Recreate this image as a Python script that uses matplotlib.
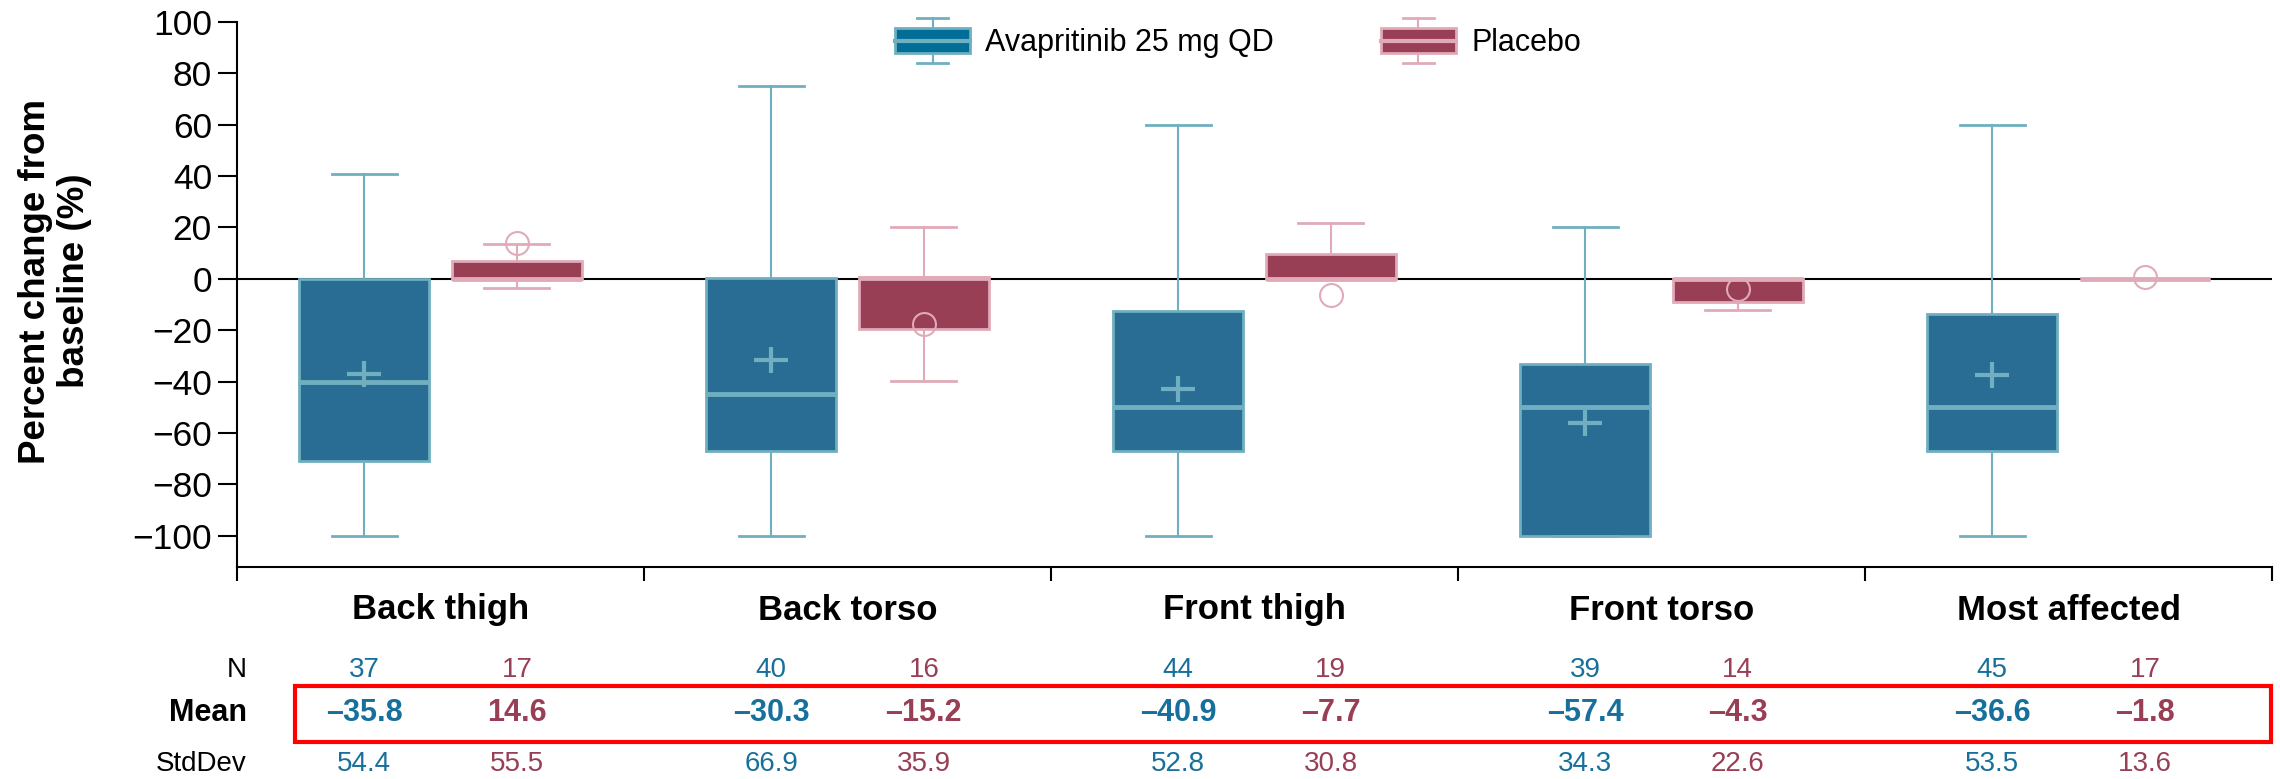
import numpy as np
import matplotlib.pyplot as plt
from matplotlib.patches import Rectangle, Patch
from matplotlib.lines import Line2D
from matplotlib.legend_handler import HandlerBase
from matplotlib.path import Path
from matplotlib import transforms

plt.rcParams['font.family'] = ['Liberation Sans', 'DejaVu Sans']

regions = ['Back thigh', 'Back torso', 'Front thigh', 'Front torso', 'Most affected']
groups = ['Avapritinib 25 mg QD', 'Placebo']

# box statistics (percent change from baseline)
ava_whislo = [-100, -100, -100, -100, -100]
ava_q1 = [-71, -67, -67, -100, -67]
ava_med = [-40, -45, -50, -50, -50]
ava_q3 = [0, 0.5, -12.7, -33.3, -13.5]
ava_whishi = [41, 75, 60, 20, 60]
ava_mean = [-37, -31.7, -42.9, -56, -37.4]

pbo_whislo = [-3.6, -39.7, 0, -12.2, 0]
pbo_q1 = [0, -19.5, 0, -9.1, 0]
pbo_med = [0, 0.5, 0, 0, 0]
pbo_q3 = [6.8, 0.8, 9.6, 0, 0]
pbo_whishi = [13.5, 20.2, 21.9, 0, 0]
pbo_mean = [14, -17.4, -6.2, -4, 0.7]

# summary rows under the chart
ava_n = [37, 40, 44, 39, 45]
pbo_n = [17, 16, 19, 14, 17]
ava_tab_mean = [-35.8, -30.3, -40.9, -57.4, -36.6]
pbo_tab_mean = [14.6, -15.2, -7.7, -4.3, -1.8]
ava_sd = [54.4, 66.9, 52.8, 34.3, 53.5]
pbo_sd = [55.5, 35.9, 30.8, 22.6, 13.6]

AVA_FILL = '#2A6D94'
AVA_LINE = '#6FAFBF'
AVA_TXT = '#17709B'
PBO_FILL = '#983E55'
PBO_LINE = '#E0AAB9'
PBO_TXT = '#983E55'

# a plus sign a little wider than tall, like the original
wide_plus = Path([(-1, 0), (1, 0), (0, -0.77), (0, 0.77)],
                 [Path.MOVETO, Path.LINETO, Path.MOVETO, Path.LINETO])


def make_stats(lo, q1, med, q3, hi, mean):
    return [dict(whislo=a, q1=b, med=c, q3=d, whishi=e, mean=f, fliers=[])
            for a, b, c, d, e, f in zip(lo, q1, med, q3, hi, mean)]


def fmt(v):
    return f'{v:.1f}'.replace('-', '\u2013')


class BoxHandler(HandlerBase):
    def create_artists(self, legend, orig_handle, xdescent, ydescent,
                       width, height, fontsize, trans):
        fc = orig_handle.get_facecolor()
        ec = orig_handle.get_edgecolor()
        x0, y0 = -xdescent, -ydescent
        xm = x0 + width / 2
        cw = width * 0.21
        arts = [
            Line2D([xm, xm], [y0 + height, y0 + height * 1.39], color=ec, lw=1.5),
            Line2D([xm, xm], [y0, y0 - height * 0.39], color=ec, lw=1.5),
            Line2D([xm - cw, xm + cw], [y0 + height * 1.39] * 2, color=ec, lw=2),
            Line2D([xm - cw, xm + cw], [y0 - height * 0.39] * 2, color=ec, lw=2),
            Rectangle((x0, y0), width, height, facecolor=fc, edgecolor=ec, lw=2),
            Line2D([x0, x0 + width], [y0 + height / 2] * 2, color=ec, lw=3),
        ]
        for a in arts:
            a.set_transform(trans)
        return arts


fig = plt.figure(figsize=(22.8, 7.79), dpi=100)
ax = fig.add_axes([237 / 2280, 1 - 566.5 / 779, 2035 / 2280, 544.5 / 779])

centers = np.arange(len(regions)) + 0.5
off = 0.1875
ava_pos = centers - off
pbo_pos = centers + off

ax.axhline(0, color='black', lw=1.5, zorder=0.5)

ax.bxp(make_stats(ava_whislo, ava_q1, ava_med, ava_q3, ava_whishi, ava_mean),
       positions=ava_pos, widths=0.32, patch_artist=True, showmeans=True,
       manage_ticks=False,
       boxprops=dict(facecolor=AVA_FILL, edgecolor=AVA_LINE, linewidth=2),
       medianprops=dict(color=AVA_LINE, linewidth=3.5, solid_capstyle='butt'),
       whiskerprops=dict(color=AVA_LINE, linewidth=1.5),
       capprops=dict(color=AVA_LINE, linewidth=2),
       meanprops=dict(marker=wide_plus, markeredgecolor=AVA_LINE,
                      markerfacecolor='none', markersize=25, markeredgewidth=3))

ax.bxp(make_stats(pbo_whislo, pbo_q1, pbo_med, pbo_q3, pbo_whishi, pbo_mean),
       positions=pbo_pos, widths=0.32, patch_artist=True, showmeans=True,
       manage_ticks=False,
       boxprops=dict(facecolor=PBO_FILL, edgecolor=PBO_LINE, linewidth=2),
       medianprops=dict(color=PBO_LINE, linewidth=3.5, solid_capstyle='butt'),
       whiskerprops=dict(color=PBO_LINE, linewidth=1.5),
       capprops=dict(color=PBO_LINE, linewidth=2),
       meanprops=dict(marker='o', markerfacecolor='none', markeredgecolor=PBO_LINE,
                      markersize=16.5, markeredgewidth=1.5))

ax.set_xlim(0, len(regions))
ax.set_ylim(-112, 100)
ax.set_yticks(np.arange(-100, 101, 20))
ax.set_yticklabels([str(v).replace('-', '\u2212') for v in range(-100, 101, 20)])
ax.set_xticks(np.arange(len(regions) + 1))
ax.set_xticklabels([])
ax.tick_params(axis='y', labelsize=25.5, length=14, width=1.5, pad=4)
ax.tick_params(axis='x', length=10, width=1.5)
for s in ['top', 'right']:
    ax.spines[s].set_visible(False)
for s in ['left', 'bottom']:
    ax.spines[s].set_linewidth(1.5)

fig.text(55 / 2280, 1 - 281 / 779, 'Percent change from\nbaseline (%)',
         rotation=90, ha='center', va='center', multialignment='center',
         fontsize=26.5, fontweight='bold', linespacing=1.15)

# labels and summary rows under the axis
tr = transforms.blended_transform_factory(ax.transData, fig.transFigure)
for c, name in zip(centers, regions):
    fig.text(c, 1 - 610 / 779, name, transform=tr, ha='center', va='center',
             fontsize=25, fontweight='bold')

rows = [('N', 1 - 670 / 779, ava_n, pbo_n, 'normal', 20, str),
        ('Mean', 1 - 713 / 779, ava_tab_mean, pbo_tab_mean, 'bold', 22, fmt),
        ('StdDev', 1 - 764 / 779, ava_sd, pbo_sd, 'normal', 20, fmt)]
for label, y, av, pv, wt, fs, f in rows:
    fig.text(247 / 2280, y, label, ha='right', va='center', fontsize=fs,
             fontweight=wt)
    for i in range(len(regions)):
        fig.text(ava_pos[i], y, f(av[i]), transform=tr, ha='center',
                 va='center', fontsize=fs, fontweight=wt, color=AVA_TXT)
        fig.text(pbo_pos[i], y, f(pv[i]), transform=tr, ha='center',
                 va='center', fontsize=fs, fontweight=wt, color=PBO_TXT)

fig.patches.append(Rectangle((294.5 / 2280, 1 - 742 / 779), (2271 - 294.5) / 2280,
                             56 / 779, transform=fig.transFigure, fill=False,
                             edgecolor='#FF0000', lw=3))

handles = [Patch(facecolor='#006E96', edgecolor=AVA_LINE),
           Patch(facecolor=PBO_FILL, edgecolor=PBO_LINE)]
fig.legend(handles, groups, handler_map={Patch: BoxHandler()}, ncol=2,
           loc='center', bbox_to_anchor=(1238 / 2280, 1 - 43 / 779),
           bbox_transform=fig.transFigure, frameon=False, fontsize=22,
           handlelength=2.45, handleheight=0.9, handletextpad=0.5,
           columnspacing=3.5, borderpad=0, borderaxespad=0)

fig.savefig('out.png', dpi=100)
